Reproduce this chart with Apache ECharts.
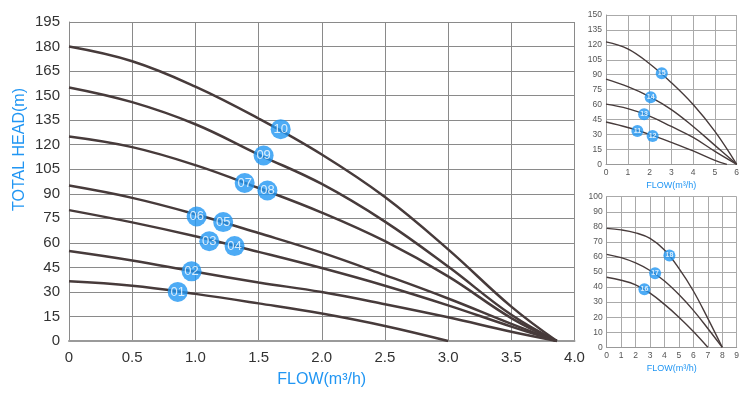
<!DOCTYPE html>
<html><head><meta charset="utf-8">
<script src="https://cdn.jsdelivr.net/npm/echarts@6/dist/echarts.min.js"></script>
<style>html,body{margin:0;padding:0;background:#fff}#c{width:750px;height:393px}</style>
</head><body><div id="c"></div>
<script>
// ---- Main chart data ----
const mainFlow = [0, 0.5, 1.0, 1.5, 2.0, 2.5, 3.0, 3.5, 3.86];
const head10 = [180, 171, 155.5, 136, 114, 88, 56, 21, 0];
const head09 = [155, 146, 132.5, 114, 96, 73, 45.5, 16, 0];
const head07 = [125, 118.5, 107.5, 93.5, 78.5, 61, 39.5, 14, 0];
const head05 = [95, 87.5, 77.5, 66, 54, 40.3, 26, 10.5, 0];
const head03 = [80, 72.5, 64, 54.5, 44.6, 33.8, 21.8, 8.8, 0];
const head02 = [55, 49.2, 42.3, 35.8, 29.9, 22.5, 14.5, 5.6, 0];
const flow01 = [0, 0.5, 1.0, 1.5, 2.0, 2.5, 3.0];
const head01 = [36.5, 33.8, 28.8, 23, 16.8, 9.2, 0];
const mainTagNames = ['01','02','03','04','05','06','07','08','09','10'];
const mainTagFlow = [0.86, 0.97, 1.11, 1.31, 1.22, 1.01, 1.39, 1.57, 1.54, 1.675];
const mainTagHead = [30, 42.6, 61, 58, 72.7, 76.1, 96.6, 92, 113.4, 129.5];
const mainXTicks = ['0','0.5','1.0','1.5','2.0','2.5','3.0','3.5','4.0'];

// ---- Small chart 1 data ----
const s1Flow = [0, 1, 2, 3, 4, 5, 6];
const head15 = [123, 116, 101, 82, 60, 33, 0];
const head14 = [85.5, 78, 68, 55, 38, 19, 0];
const head13 = [60.5, 56, 48.5, 38, 27, 13, 0];
const s1FlowB = [0, 1, 2, 3, 4, 5, 5.55];
const head11 = [42.5, 37, 30, 22, 13.5, 4, 0];
const s1TagNames = ['11','12','13','14','15'];
const s1TagFlow = [1.44, 2.14, 1.75, 2.05, 2.56];
const s1TagHead = [33.5, 28.5, 50.2, 67.3, 91.4];

// ---- Small chart 2 data ----
const s2Flow = [0, 1, 2, 3, 4, 5, 6, 7, 8];
const head18 = [79, 78, 76, 72.3, 64.6, 52.4, 37.4, 19.2, 0];
const head17 = [61.7, 59.5, 56, 51, 44, 35, 24.5, 12.5, 0];
const s2FlowB = [0, 1, 2, 3, 4, 5, 6, 7];
const head16 = [46.5, 44.5, 41.5, 36, 28.5, 20, 10.5, 0];
const s2TagNames = ['16','17','18'];
const s2TagFlow = [2.61, 3.35, 4.34];
const s2TagHead = [38.5, 49.1, 61];

const zip = (xs, ys) => xs.map((x, i) => [x, ys[i]]);
const tags = (n, xs, ys) => n.map((t, i) => [xs[i], ys[i], t]);

const BLUE = '#2196f3';
const CURVE = '#473b3b';
const FONT = 'Liberation Sans, Arial, sans-serif';

function curve(data, idx, w) {
  return { type: 'line', xAxisIndex: idx, yAxisIndex: idx, data, smooth: 0.4,
    symbol: 'none', lineStyle: { color: CURVE, width: w }, z: 3, silent: true };
}
function tagSeries(data, idx, size, fs, fw) {
  return { type: 'scatter', xAxisIndex: idx, yAxisIndex: idx, data, symbolSize: size,
    itemStyle: { color: BLUE }, z: 5, silent: true,
    label: { show: true, position: 'inside', color: '#fff', fontSize: fs, fontWeight: fw,
      fontFamily: FONT, formatter: p => p.value[2] } };
}

const chart = echarts.init(document.getElementById('c'), null, { renderer: 'canvas' });
chart.setOption({
  animation: false,
  backgroundColor: '#fff',
  grid: [
    { left: 69, top: 22, width: 505.5, height: 328.7 },
    { left: 606, top: 15, width: 130.7, height: 149.3 },
    { left: 606.7, top: 196.7, width: 130, height: 150.6 }
  ],
  xAxis: [
    { gridIndex: 0, type: 'value', min: 0, max: 4, interval: 0.5,
      axisLine: { show: true, lineStyle: { color: '#9a9a9a', width: 2 } }, axisTick: { show: false },
      splitLine: { show: true, lineStyle: { color: '#8a8a8a', width: 1 } },
      axisLabel: { color: '#333', fontSize: 15, fontFamily: FONT, margin: 9,
        formatter: v => mainXTicks[Math.round(v * 2)] },
      name: 'FLOW(m³/h)', nameLocation: 'middle', nameGap: 31,
      nameTextStyle: { color: BLUE, fontSize: 16, fontFamily: FONT } },
    { gridIndex: 1, type: 'value', min: 0, max: 6, interval: 1,
      axisLine: { show: true, lineStyle: { color: '#999', width: 1 } }, axisTick: { show: false },
      splitLine: { show: true, lineStyle: { color: '#aaa', width: 1 } },
      axisLabel: { color: '#555', fontSize: 8.5, fontFamily: FONT, margin: 4 },
      name: 'FLOW(m³/h)', nameLocation: 'middle', nameGap: 17,
      nameTextStyle: { color: BLUE, fontSize: 9, fontFamily: FONT } },
    { gridIndex: 2, type: 'value', min: 0, max: 9, interval: 1,
      axisLine: { show: true, lineStyle: { color: '#999', width: 1 } }, axisTick: { show: false },
      splitLine: { show: true, lineStyle: { color: '#aaa', width: 1 } },
      axisLabel: { color: '#555', fontSize: 8.5, fontFamily: FONT, margin: 4 },
      name: 'FLOW(m³/h)', nameLocation: 'middle', nameGap: 17,
      nameTextStyle: { color: BLUE, fontSize: 9, fontFamily: FONT } }
  ],
  yAxis: [
    { gridIndex: 0, type: 'value', min: 0, max: 195, interval: 15,
      axisLine: { show: true, lineStyle: { color: '#8a8a8a', width: 1 } }, axisTick: { show: false },
      splitLine: { show: true, lineStyle: { color: '#8a8a8a', width: 1 } },
      axisLabel: { color: '#333', fontSize: 15, fontFamily: FONT, margin: 9 } },
    { gridIndex: 1, type: 'value', min: 0, max: 150, interval: 15,
      axisLine: { show: true, lineStyle: { color: '#999', width: 1 } }, axisTick: { show: false },
      splitLine: { show: true, lineStyle: { color: '#aaa', width: 1 } },
      axisLabel: { color: '#555', fontSize: 8.5, fontFamily: FONT, margin: 4 } },
    { gridIndex: 2, type: 'value', min: 0, max: 100, interval: 10,
      axisLine: { show: true, lineStyle: { color: '#999', width: 1 } }, axisTick: { show: false },
      splitLine: { show: true, lineStyle: { color: '#aaa', width: 1 } },
      axisLabel: { color: '#555', fontSize: 8.5, fontFamily: FONT, margin: 4 } }
  ],
  graphic: [
    { type: 'text', left: 12, top: 88, rotation: Math.PI / 2, originX: 0, originY: 0,
      style: { text: 'TOTAL HEAD(m)', fill: BLUE, fontSize: 16, fontFamily: FONT } }
  ],
  series: [
    curve(zip(mainFlow, head10), 0, 2.5),
    curve(zip(mainFlow, head09), 0, 2.5),
    curve(zip(mainFlow, head07), 0, 2.5),
    curve(zip(mainFlow, head05), 0, 2.5),
    curve(zip(mainFlow, head03), 0, 2.5),
    curve(zip(mainFlow, head02), 0, 2.5),
    curve(zip(flow01, head01), 0, 2.5),
    tagSeries(tags(mainTagNames, mainTagFlow, mainTagHead), 0, 20, 13, 'normal'),
    curve(zip(s1Flow, head15), 1, 1.4),
    curve(zip(s1Flow, head14), 1, 1.4),
    curve(zip(s1Flow, head13), 1, 1.4),
    curve(zip(s1FlowB, head11), 1, 1.4),
    tagSeries(tags(s1TagNames, s1TagFlow, s1TagHead), 1, 12, 7, 'bold'),
    curve(zip(s2Flow, head18), 2, 1.4),
    curve(zip(s2Flow, head17), 2, 1.4),
    curve(zip(s2FlowB, head16), 2, 1.4),
    tagSeries(tags(s2TagNames, s2TagFlow, s2TagHead), 2, 12, 7, 'bold')
  ]
});
</script></body></html>
